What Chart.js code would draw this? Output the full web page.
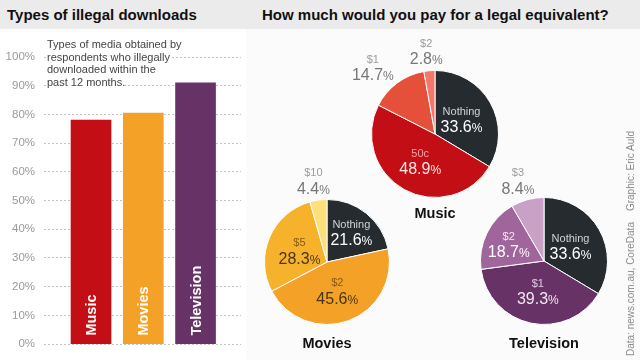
<!DOCTYPE html>
<html><head><meta charset="utf-8">
<script src="https://cdn.jsdelivr.net/npm/chart.js@4.4.1/dist/chart.umd.min.js"></script>
<style>
html,body{margin:0;padding:0;width:640px;height:360px;overflow:hidden;background:#fbfbfb;font-family:"Liberation Sans",Arial,sans-serif;}
#hdr{position:absolute;left:0;top:0;width:640px;height:29px;background:#ebebeb;}
.t{position:absolute;top:6px;font-weight:bold;font-size:15px;color:#111;white-space:nowrap;}
#leftbg{position:absolute;left:0;top:29px;width:246px;height:331px;background:#fff;}
canvas{position:absolute;}
#note{position:absolute;left:47px;top:38px;font-size:11px;line-height:12.7px;color:#444;white-space:nowrap;}
#note span{background:#fff;}
.lbl{position:absolute;font-weight:bold;font-size:14.5px;color:#111;transform:translateX(-50%);white-space:nowrap;}
#credit{position:absolute;left:625px;top:356px;transform-origin:0 0;transform:rotate(-90deg);font-size:10px;line-height:12px;color:#8a8a8a;white-space:nowrap;}
</style></head>
<body>
<div id="hdr"></div>
<div class="t" style="left:7px">Types of illegal downloads</div>
<div class="t" style="left:262px">How much would you pay for a legal equivalent?</div>
<div id="leftbg"></div>
<canvas id="bars" width="245" height="330" style="left:0;top:30px"></canvas>
<div id="note"><span>Types of media obtained by</span><br><span>respondents who illegally</span><br><span>downloaded within the</span><br><span>past 12 months.</span></div>
<canvas id="pieMusic" width="240" height="240" style="left:315px;top:14px"></canvas>
<canvas id="pieMovies" width="240" height="240" style="left:207px;top:142px"></canvas>
<canvas id="pieTV" width="240" height="240" style="left:424px;top:141px"></canvas>
<div class="lbl" style="left:435px;top:205px">Music</div>
<div class="lbl" style="left:327px;top:335px">Movies</div>
<div class="lbl" style="left:544px;top:335px">Television</div>
<div id="credit">Data: news.com.au, CoreData<span style="margin-left:11px">Graphic: Eric Auld</span></div>
<script>
const FONT = '"Liberation Sans", Arial, sans-serif';

// ---- data ----
const categories = ['Music', 'Movies', 'Television'];
const downloadShare = [78, 80.5, 91];

const musicLabels = ['Nothing', '50c', '$1', '$2'];
const musicValues = [33.6, 48.9, 14.7, 2.8];

const moviesLabels = ['Nothing', '$2', '$5', '$10'];
const moviesValues = [21.6, 45.6, 28.3, 4.4];

const tvLabels = ['Nothing', '$1', '$2', '$3'];
const tvValues = [33.6, 39.3, 18.7, 8.4];

// ---- styles ----
const barColors = ['#c20e14', '#f4a128', '#673366'];

const barLabels = {
  id: 'barLabels',
  afterDatasetsDraw(chart) {
    const ctx = chart.ctx;
    const meta = chart.getDatasetMeta(0);
    ctx.save();
    ctx.fillStyle = '#fff';
    ctx.font = 'bold 14.5px ' + FONT;
    ctx.textAlign = 'left';
    ctx.textBaseline = 'middle';
    meta.data.forEach((bar, i) => {
      const p = bar.getProps(['x', 'base'], true);
      ctx.save();
      ctx.translate(p.x, p.base - 8);
      ctx.rotate(-Math.PI / 2);
      ctx.fillText(categories[i], 0, 1);
      ctx.restore();
    });
    ctx.restore();
  }
};

new Chart(document.getElementById('bars'), {
  type: 'bar',
  data: {
    datasets: [{
      data: categories.map((c, i) => ({ x: i, y: downloadShare[i] })),
      backgroundColor: barColors,
      borderWidth: 0,
      barThickness: 40
    }]
  },
  options: {
    responsive: false,
    animation: false,
    layout: { padding: { top: 27, bottom: 10, right: 4, left: 0 } },
    scales: {
      x: { type: 'linear', min: -0.9, max: 2.87, offset: false, display: false },
      y: {
        min: 0, max: 100,
        ticks: { stepSize: 10, callback: v => v + '%', padding: 9, color: '#9a9a9a', font: { size: 11.5, family: FONT } },
        grid: { color: '#c4c4c4', drawTicks: false, lineWidth: 1 },
        border: { display: false, dash: [2, 2] },
        afterFit(s) { s.width = 44; }
      }
    },
    plugins: { legend: { display: false }, tooltip: { enabled: false } }
  },
  plugins: [barLabels]
});

const pieLabels = {
  id: 'pieLabels',
  afterDatasetsDraw(chart, args, opts) {
    const ctx = chart.ctx;
    const meta = chart.getDatasetMeta(0);
    const vals = chart.data.datasets[0].data;
    ctx.save();
    meta.data.forEach((arc, i) => {
      const p = arc.getProps(['x', 'y', 'startAngle', 'endAngle', 'outerRadius'], true);
      const mid = (p.startAngle + p.endAngle) / 2;
      const v = vals[i];
      const num = v.toFixed(1);
      ctx.font = '16px ' + FONT;
      const wn = ctx.measureText(num).width;
      ctx.font = '12px ' + FONT;
      const wp = ctx.measureText('%').width;
      const w = wn + wp;
      const inside = v >= 15;
      let cx, cy;
      if (inside) {
        const rho = p.outerRadius * (v < 25 ? 0.62 : 0.48);
        cx = p.x + Math.cos(mid) * rho;
        cy = p.y + Math.sin(mid) * rho;
      } else {
        const rho = p.outerRadius + 20;
        cx = p.x + Math.cos(mid) * rho + Math.cos(mid) * w / 2;
        cy = p.y + Math.sin(mid) * rho;
      }
      const nameCol = inside ? opts.nameColors[i] : '#9c9c9c';
      const pctCol = inside ? opts.pctColors[i] : '#777';
      ctx.textBaseline = 'alphabetic';
      ctx.textAlign = 'center';
      ctx.font = '11px ' + FONT;
      ctx.fillStyle = nameCol;
      ctx.fillText(chart.data.labels[i], cx, cy - 4);
      ctx.textAlign = 'left';
      ctx.fillStyle = pctCol;
      ctx.font = '16px ' + FONT;
      ctx.fillText(num, cx - w / 2, cy + 13.5);
      ctx.font = '12px ' + FONT;
      ctx.fillText('%', cx - w / 2 + wn, cy + 13.5);
    });
    ctx.restore();
  }
};

function makePie(id, labels, values, colors, pad, nameColors, pctColors) {
  new Chart(document.getElementById(id), {
    type: 'pie',
    data: { labels: labels, datasets: [{ data: values, backgroundColor: colors, borderColor: '#ffffff', borderWidth: 1, hoverOffset: 0 }] },
    options: {
      responsive: false,
      animation: false,
      layout: { padding: pad },
      plugins: {
        legend: { display: false }, tooltip: { enabled: false },
        pieLabels: { nameColors: nameColors, pctColors: pctColors }
      }
    },
    plugins: [pieLabels]
  });
}

makePie('pieMusic', musicLabels, musicValues,
  ['#262b2f', '#c20e14', '#e4503a', '#f3776b'], 56,
  ['#cfd3d6', '#f3a3a3', '#999', '#999'], ['#ffffff', '#fde8e8', '#777', '#777']);
makePie('pieMovies', moviesLabels, moviesValues,
  ['#262b2f', '#f4a128', '#f7b22c', '#fde07a'], 57,
  ['#cfd3d6', '#8a5a10', '#8a5a10', '#999'], ['#ffffff', '#4a3410', '#4a3410', '#777']);
makePie('pieTV', tvLabels, tvValues,
  ['#262b2f', '#673366', '#a0669c', '#c9a0c6'], 56,
  ['#cfd3d6', '#e3c9e2', '#f3e6f2', '#999'], ['#ffffff', '#f3e6f2', '#ffffff', '#777']);
</script>
</body></html>
